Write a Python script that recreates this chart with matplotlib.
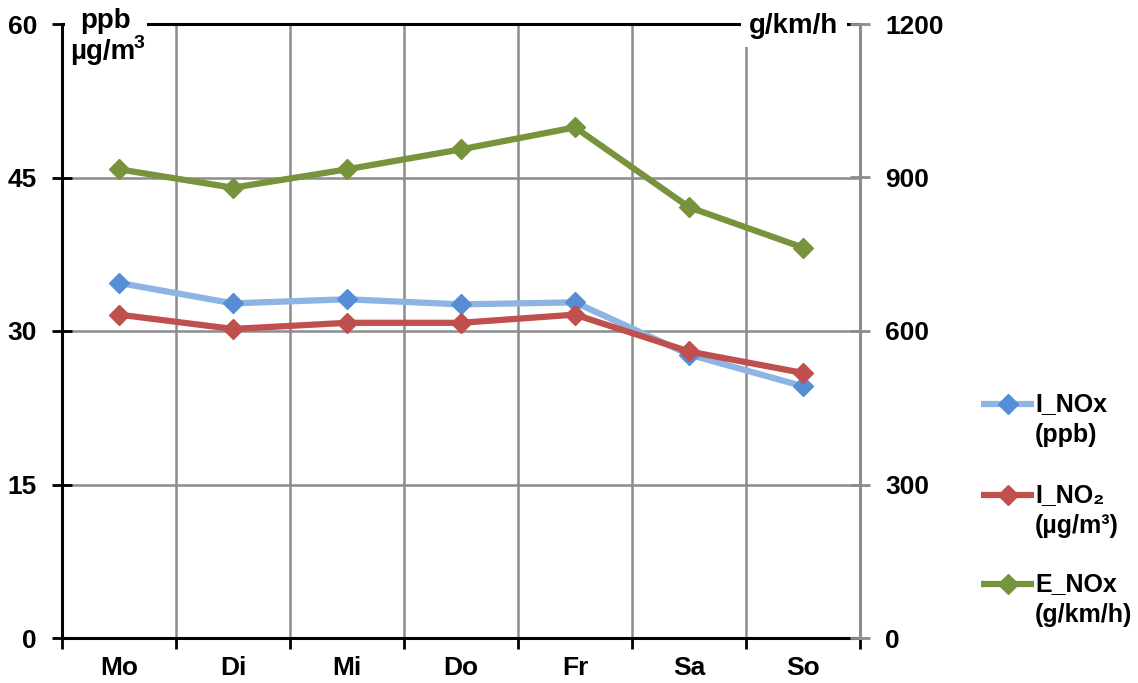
import numpy as np
import matplotlib.pyplot as plt
from matplotlib.lines import Line2D

plt.rcParams['font.family'] = ['Liberation Sans', 'DejaVu Sans']
plt.rcParams['font.weight'] = 'bold'

days = ["Mo", "Di", "Mi", "Do", "Fr", "Sa", "So"]
i_nox = [34.7, 32.7, 33.1, 32.6, 32.8, 27.7, 24.6]
i_no2 = [31.6, 30.2, 30.8, 30.8, 31.6, 28.0, 25.9]
e_nox = [916, 880, 916, 955, 998, 842, 763]

left_ticks = [0, 15, 30, 45, 60]
right_ticks = [0, 300, 600, 900, 1200]

names = ["I_NOx", "I_NO\u2082", "E_NOx"]
units = ["(ppb)", "(\u00b5g/m\u00b3)", "(g/km/h)"]

GRID = "#8c8c8c"
W, H = 1138, 683

fig = plt.figure(figsize=(W / 100, H / 100), dpi=100)
ax = fig.add_axes([62/W, 45/H, 798/W, 614/H])
ax2 = ax.twinx()

x = np.arange(len(days))

styles = [dict(color="#8DB4E2", mc="#558ED5"),
          dict(color="#C0504D", mc="#C0504D"),
          dict(color="#77933C", mc="#77933C")]

ax.plot(x, i_nox, color=styles[0]["color"], lw=4.5, marker="D", ms=10,
        mfc=styles[0]["mc"], mec=styles[0]["mc"], zorder=3)
ax.plot(x, i_no2, color=styles[1]["color"], lw=4.5, marker="D", ms=10,
        mfc=styles[1]["mc"], mec=styles[1]["mc"], zorder=4)
ax2.plot(x, e_nox, color=styles[2]["color"], lw=4.5, marker="D", ms=10,
         mfc=styles[2]["mc"], mec=styles[2]["mc"], zorder=3)

ax.set_xlim(-0.5, len(days) - 0.5)
ax.set_ylim(0, 60)
ax2.set_ylim(0, 1200)
ax.set_yticks(left_ticks)
ax2.set_yticks(right_ticks)

# category boundaries carry ticks and grid, names sit in the middle
ax.set_xticks(np.arange(-0.5, len(days), 1.0))
ax.set_xticklabels([])
ax.set_xticks(x, minor=True)
ax.set_xticklabels(days, minor=True, fontsize=19, fontweight="bold")
ax.tick_params(axis="x", which="major", direction="out", length=8, width=2, color="black")
ax.tick_params(axis="x", which="minor", length=0, pad=13)

ax.tick_params(axis="y", direction="inout", length=14, width=2, color="black",
               labelsize=19, pad=11)
ax2.tick_params(axis="y", direction="inout", length=14, width=2, color=GRID,
                labelsize=19, pad=11)
for lab in ax.get_yticklabels() + ax2.get_yticklabels():
    lab.set_fontweight("bold")

ax.grid(True, which="major", color=GRID, lw=1.8)
ax.set_axisbelow(True)

for s in ["left", "bottom", "top"]:
    ax.spines[s].set_color("black")
    ax.spines[s].set_linewidth(2.2)
ax.spines["right"].set_visible(False)
for s in ["left", "bottom", "top"]:
    ax2.spines[s].set_visible(False)
ax2.spines["right"].set_color(GRID)
ax2.spines["right"].set_linewidth(2.2)

# unit labels over the top line
fig.text(106/W, 1 - 21/H, "ppb", ha="center", va="center", fontsize=20,
         fontweight="bold", bbox=dict(facecolor="white", edgecolor="none", pad=11), zorder=10)
fig.text(103/W, 1 - 52/H, "\u00b5g/m", ha="center", va="center", fontsize=20,
         fontweight="bold", zorder=10)
fig.text(139/W, 1 - 44/H, "3", ha="center", va="center", fontsize=14,
         fontweight="bold", zorder=10)
fig.text(794/W, 1 - 26/H, "g/km/h", ha="center", va="center", fontsize=20,
         fontweight="bold", bbox=dict(facecolor="white", edgecolor="none", pad=6), zorder=10)

# legend, drawn by hand so the handle sits on the first text line
leg_y = [404, 495, 584]
for st, nm, un, yy in zip(styles, names, units, leg_y):
    fy = 1 - yy / H
    fig.add_artist(Line2D([981/W, 1034/W], [fy, fy], transform=fig.transFigure,
                          color=st["color"], lw=4.5, solid_capstyle="butt"))
    fig.add_artist(Line2D([1008/W], [fy], transform=fig.transFigure, marker="D",
                          ms=10, mfc=st["mc"], mec=st["mc"], lw=0))
    fig.text(1035/W, fy, nm, ha="left", va="center", fontsize=18, fontweight="bold")
    fig.text(1035/W, 1 - (yy + 31) / H, un, ha="left", va="center", fontsize=18,
             fontweight="bold")

fig.savefig("out.png", dpi=100)
